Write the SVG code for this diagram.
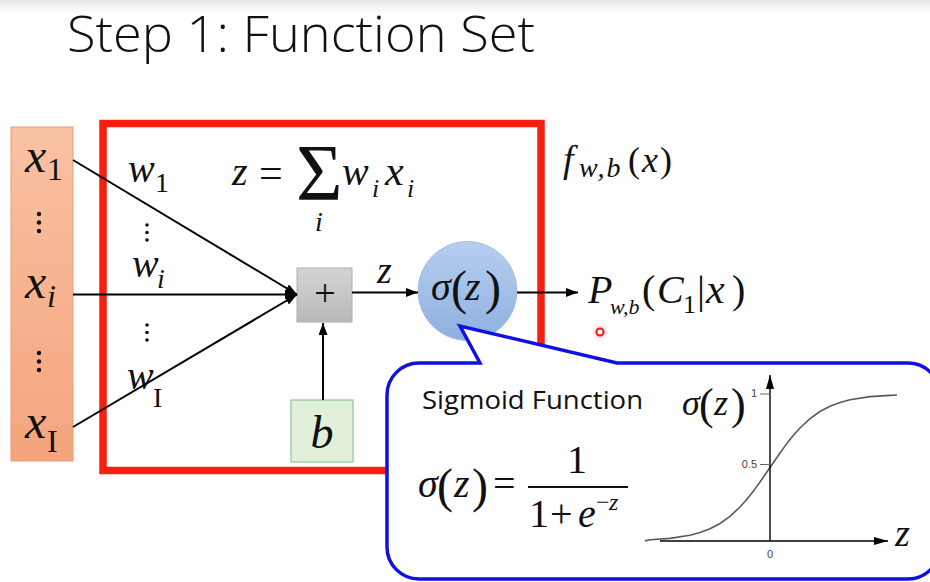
<svg xmlns="http://www.w3.org/2000/svg" width="930" height="582" viewBox="0 0 930 582">
<defs>
<linearGradient id="topbar" x1="0" y1="0" x2="0" y2="1"><stop offset="0" stop-color="#e6e6e6"/><stop offset="1" stop-color="#ffffff"/></linearGradient>
<linearGradient id="orange" x1="0" y1="0" x2="0" y2="1"><stop offset="0" stop-color="#f9c2a4"/><stop offset="1" stop-color="#f4a47c"/></linearGradient>
<linearGradient id="gray" x1="0" y1="0" x2="0" y2="1"><stop offset="0" stop-color="#d4d4d4"/><stop offset="1" stop-color="#b8b8b8"/></linearGradient>
<linearGradient id="blue" x1="0" y1="0" x2="0" y2="1"><stop offset="0" stop-color="#b7cff0"/><stop offset="1" stop-color="#8db0df"/></linearGradient>
<radialGradient id="glow"><stop offset="0" stop-color="#ff4040" stop-opacity="0.5"/><stop offset="1" stop-color="#ff8080" stop-opacity="0"/></radialGradient>
<marker id="arr" markerUnits="userSpaceOnUse" markerWidth="12" markerHeight="9" refX="12" refY="4.5" orient="auto"><path d="M0,0 L12,4.5 L0,9 Z" fill="#000"/></marker>
<marker id="arrs" markerUnits="userSpaceOnUse" markerWidth="14" markerHeight="8" refX="14" refY="4" orient="auto"><path d="M0,0 L14,4 L0,8 Z" fill="#000"/></marker>
</defs>
<style>
.m{font-family:"Liberation Serif","Times New Roman",serif;font-style:italic;fill:#111}
.r{font-family:"Liberation Serif","Times New Roman",serif;font-style:normal;fill:#111}
.s{font-family:"Open Sans","Liberation Sans",sans-serif;fill:#111}
.ax{font-family:"Liberation Sans",Arial,sans-serif;font-size:11px;fill:#444}
.ln{stroke:#000;stroke-width:2;fill:none}
</style>
<rect x="0" y="0" width="930" height="14" fill="url(#topbar)"/>
<rect x="0" y="14" width="930" height="568" fill="#fff"/>
<text id="title" class="s" x="67" y="52" font-size="50" font-weight="300" textLength="468" lengthAdjust="spacingAndGlyphs">Step 1: Function Set</text>

<g id="inputs">
<rect x="11" y="127" width="62" height="334" fill="url(#orange)" stroke="#eb9b74" stroke-width="1"/>
<text class="m" x="25" y="172" font-size="48">x</text><text class="r" x="47" y="180" font-size="32">1</text>
<g fill="#111"><circle cx="39" cy="214" r="2.2"/><circle cx="39" cy="222.5" r="2.2"/><circle cx="39" cy="231" r="2.2"/></g>
<text class="m" x="25" y="298" font-size="48">x</text><text class="m" x="47" y="307" font-size="32">i</text>
<g fill="#111"><circle cx="39" cy="353" r="2.2"/><circle cx="39" cy="361.5" r="2.2"/><circle cx="39" cy="370" r="2.2"/></g>
<text class="m" x="25" y="438" font-size="48">x</text><text class="r" x="47" y="452" font-size="32">I</text>
</g>

<g id="function-box">
<rect x="103" y="123.5" width="438" height="347" fill="none" stroke="#f5200f" stroke-width="7.5"/>
</g>

<g id="weights">
<text class="m" x="128" y="182" font-size="40">w</text><text class="r" x="155" y="192" font-size="28">1</text>
<g fill="#111"><circle cx="147" cy="225" r="1.8"/><circle cx="147" cy="232.5" r="1.8"/><circle cx="147" cy="240" r="1.8"/></g>
<text class="m" x="132" y="277" font-size="40">w</text><text class="m" x="157" y="288" font-size="28">i</text>
<g fill="#111"><circle cx="147" cy="325" r="1.8"/><circle cx="147" cy="332.5" r="1.8"/><circle cx="147" cy="340" r="1.8"/></g>
<text class="m" x="127" y="389" font-size="40">w</text><text class="r" x="153" y="407" font-size="28">I</text>
</g>

<g id="sum-formula">
<text class="m" x="232" y="185" font-size="40">z</text>
<text class="r" x="259" y="187" font-size="42">=</text>
<text class="r" x="296" y="200" font-size="80">Σ</text>
<text class="m" x="315" y="231" font-size="28">i</text>
<text class="m" x="342" y="185" font-size="40">w</text><text class="m" x="372" y="197" font-size="26">i</text>
<text class="m" x="385" y="185" font-size="42">x</text><text class="m" x="407" y="197" font-size="26">i</text>
</g>

<g id="plus">
<rect x="297" y="268" width="55" height="54" fill="url(#gray)" stroke="#b0b0b0" stroke-width="1"/>
<text class="r" x="325" y="306" font-size="38" text-anchor="middle">+</text>
</g>

<g id="bias">
<rect x="291" y="400" width="62" height="62" fill="#e2f0d9" stroke="#8cc79d" stroke-width="1.2"/>
<text class="m" x="322" y="448" font-size="46" text-anchor="middle">b</text>
</g>

<g id="sigma-node">
<circle cx="467.5" cy="291" r="49.5" fill="url(#blue)" stroke="#a4bfe6" stroke-width="1"/>
<text class="m" x="431" y="300" font-size="40">σ</text>
<text class="r" x="451" y="304" font-size="48">(</text>
<text class="m" x="465" y="300" font-size="40">z</text>
<text class="r" x="485" y="304" font-size="48">)</text>
</g>

<g id="connectors">
<line class="ln" x1="73" y1="160" x2="297" y2="294.5" marker-end="url(#arr)"/>
<line class="ln" x1="73" y1="294.5" x2="297" y2="294.5" marker-end="url(#arr)"/>
<line class="ln" x1="73" y1="427" x2="297" y2="294.5" marker-end="url(#arr)"/>
<line class="ln" x1="323" y1="400" x2="323" y2="323" marker-end="url(#arr)"/>
<line class="ln" x1="352" y1="292.5" x2="418" y2="292.5" marker-end="url(#arr)"/>
<line class="ln" x1="517" y1="292.5" x2="578" y2="292.5" marker-end="url(#arr)"/>
<text class="m" x="377" y="283" font-size="38">z</text>
</g>

<g id="output">
<text class="m" x="588" y="303" font-size="40">P</text>
<text class="m" x="610" y="314" font-size="22">w,b</text>
<text class="r" x="642" y="303" font-size="40">(</text>
<text class="m" x="657" y="303" font-size="40">C</text>
<text class="r" x="683" y="313" font-size="26">1</text>
<text class="r" x="697" y="303" font-size="40">|</text>
<text class="m" x="706" y="303" font-size="42">x</text>
<text class="r" x="732" y="303" font-size="40">)</text>
</g>

<g id="f-label">
<text class="m" x="563" y="172" font-size="38">f</text>
<text class="m" x="579" y="177" font-size="28" letter-spacing="2">w,b</text>
<text class="r" x="628" y="172" font-size="36">(</text>
<text class="m" x="642" y="172" font-size="36">x</text>
<text class="r" x="660" y="172" font-size="36">)</text>
</g>

<g id="pointer-dot">
<circle cx="600" cy="332" r="9" fill="url(#glow)"/>
<circle cx="600" cy="332" r="3.5" fill="#fff" stroke="#f01818" stroke-width="2"/>
</g>

<g id="callout">
<path d="M419,363 L480,363 L460,326 L617,363 L908,363 A32,32 0 0 1 940,395 L940,547 A32,32 0 0 1 908,579 L419,579 A32,32 0 0 1 387,547 L387,395 A32,32 0 0 1 419,363 Z" fill="#fff" stroke="#1010e0" stroke-width="3.5" stroke-linejoin="miter"/>
<text class="s" x="422" y="409" font-size="25" textLength="221" lengthAdjust="spacingAndGlyphs">Sigmoid Function</text>
<text class="m" x="418" y="497" font-size="40">σ</text>
<text class="r" x="437" y="502" font-size="48">(</text>
<text class="m" x="454" y="497" font-size="40">z</text>
<text class="r" x="472" y="502" font-size="48">)</text>
<text class="r" x="493" y="497" font-size="40">=</text>
<line x1="528" y1="487" x2="628" y2="487" stroke="#111" stroke-width="2"/>
<text class="r" x="577" y="473" font-size="40" text-anchor="middle">1</text>
<text class="r" x="529" y="527" font-size="40">1</text>
<text class="r" x="550" y="527" font-size="40">+</text>
<text class="m" x="578" y="527" font-size="40">e</text>
<text class="r" x="596" y="510" font-size="24">−</text>
<text class="m" x="609" y="510" font-size="24">z</text>
</g>

<g id="sigmoid-graph">
<polyline points="645,540.9 650,539.8 670,538.4 690,535.2 700,532.6 710,528.8 720,523.5 730,516.3 740,507 745,501.5 750,495.4 755,488.9 760,482 765,474.8 770,467.5 775,460.2 780,453 785,446.1 790,439.6 795,433.5 800,428 810,418.7 820,411.5 830,406.2 840,402.4 850,399.8 870,396.6 890,395.4 897,395" fill="none" stroke="#5a5a5a" stroke-width="1.6" stroke-linejoin="round"/>
<line x1="660" y1="541" x2="888" y2="541" stroke="#000" stroke-width="1.4" marker-end="url(#arrs)"/>
<line x1="770" y1="541" x2="770" y2="375" stroke="#000" stroke-width="1.4" marker-end="url(#arrs)"/>
<line x1="760" y1="464.5" x2="770" y2="464.5" stroke="#666" stroke-width="1"/>
<line x1="760" y1="394" x2="770" y2="394" stroke="#666" stroke-width="1"/>
<text class="ax" x="757" y="468" text-anchor="end">0.5</text>
<text class="ax" x="757" y="397" font-size="9" text-anchor="end">1</text>
<text class="ax" x="770" y="558" text-anchor="middle">0</text>
<text class="m" x="682" y="415" font-size="36">σ</text>
<text class="r" x="699" y="419" font-size="44">(</text>
<text class="m" x="714" y="415" font-size="36">z</text>
<text class="r" x="731" y="419" font-size="44">)</text>
<text class="m" x="895" y="546" font-size="38">z</text>
</g>
</svg>
